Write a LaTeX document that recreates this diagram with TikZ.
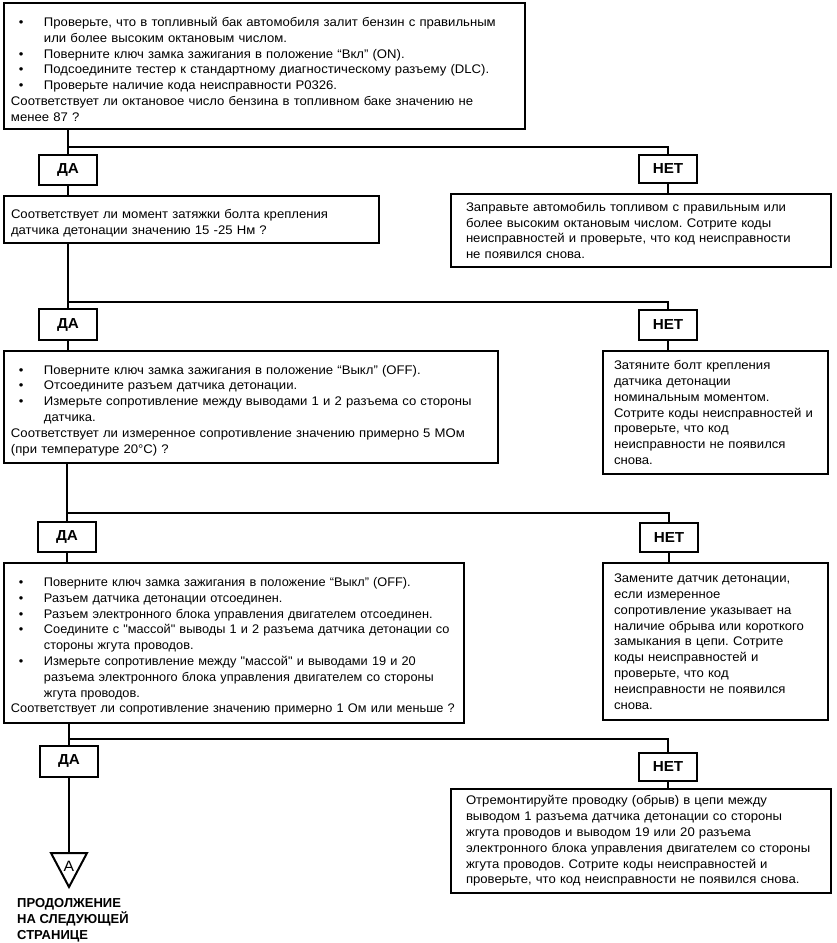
\documentclass[tikz,border=0pt]{standalone}
\usepackage{fontspec}
\setmainfont{Liberation Sans}[FakeStretch=1.05]
\newfontfamily\plainsans{Liberation Sans}
\newfontfamily\narrowsans{Liberation Sans}[FakeStretch=1.02]
% bullet first line, continuation line, plain first line
\newcommand\bl[1]{\par\noindent\makebox[33pt][l]{\hspace{8pt}\textbullet}\mbox{#1}}
\newcommand\cl[1]{\par\noindent\hspace*{33pt}\mbox{#1}}
\newcommand\pl[1]{\par\noindent\mbox{#1}}
\begin{document}
\begin{tikzpicture}[x=1pt,y=-1pt,
  qbox/.style={draw, line width=2pt, anchor=north west, align=left, inner xsep=0pt, inner ysep=2pt,
    font=\frenchspacing\fontsize{12.5}{15.8}\selectfont,
    execute at begin node={\setlength{\leftskip}{7pt}}},
  nbox/.style={draw, line width=2pt, anchor=north west, align=left, inner xsep=0pt, inner ysep=2pt,
    font=\frenchspacing\fontsize{12.5}{15.8}\selectfont},
  in15/.style={execute at begin node={\setlength{\leftskip}{15pt}}},
  in11/.style={execute at begin node={\setlength{\leftskip}{11pt}}},
  yn/.style={draw, line width=2pt, inner sep=0pt, minimum width=58pt, minimum height=30pt,
    font=\bfseries\fontsize{14.5}{16}\selectfont},
  ln/.style={line width=2pt}]
\useasboundingbox (0,0) rectangle (836,943);

% question boxes
\node[qbox, text width=521pt, minimum height=126pt] (q0) at (3,2) {%
\bl{Проверьте, что в топливный бак автомобиля залит бензин с правильным}%
\cl{или более высоким октановым числом.}%
\bl{Поверните ключ замка зажигания в положение “Вкл” (ON).}%
\bl{Подсоедините тестер к стандартному диагностическому разъему (DLC).}%
\bl{Проверьте наличие кода неисправности P0326.}%
\pl{Соответствует ли октановое число бензина в топливном баке значению не}%
\pl{менее 87 ?}};

\node[qbox, text width=375pt, minimum height=47pt] (q1) at (3,195) {%
\pl{Соответствует ли момент затяжки болта крепления}%
\pl{датчика детонации значению 15 -25 Нм ?}};

\node[qbox, text width=494pt, minimum height=112pt] (q2) at (3,350) {%
\bl{Поверните ключ замка зажигания в положение “Выкл” (OFF).}%
\bl{Отсоедините разъем датчика детонации.}%
\bl{Измерьте сопротивление между выводами 1 и 2 разъема со стороны}%
\cl{датчика.}%
\pl{Соответствует ли измеренное сопротивление значению примерно 5 МОм}%
\pl{(при температуре 20°C) ?}};

\node[qbox, text width=460pt, minimum height=160pt,
  font=\narrowsans\frenchspacing\fontsize{12.5}{15.8}\selectfont] (q3) at (3,562) {%
\bl{Поверните ключ замка зажигания в положение “Выкл” (OFF).}%
\bl{Разъем датчика детонации отсоединен.}%
\bl{Разъем электронного блока управления двигателем отсоединен.}%
\bl{Соедините с "массой" выводы 1 и 2 разъема датчика детонации со}%
\cl{стороны жгута проводов.}%
\bl{Измерьте сопротивление между "массой" и выводами 19 и 20}%
\cl{разъема электронного блока управления двигателем со стороны}%
\cl{жгута проводов.}%
\pl{Соответствует ли сопротивление значению примерно 1 Ом или меньше ?}};

% negative answer boxes
\node[nbox, in15, text width=380pt, minimum height=73pt] (n1) at (450,193) {%
Заправьте автомобиль топливом с правильным или\\более высоким октановым числом. Сотрите коды\\неисправностей и проверьте, что код неисправности\\не появился снова.};

\node[nbox, in11, text width=225pt, minimum height=123pt] (n2) at (602,350) {%
Затяните болт крепления\\датчика детонации\\номинальным моментом.\\Сотрите коды неисправностей и\\проверьте, что код\\неисправности не появился\\снова.};

\node[nbox, in11, text width=225pt, minimum height=157pt] (n3) at (602,562) {%
Замените датчик детонации,\\если измеренное\\сопротивление указывает на\\наличие обрыва или короткого\\замыкания в цепи. Сотрите\\коды неисправностей и\\проверьте, что код\\неисправности не появился\\снова.};

\node[nbox, in15, text width=380pt, minimum height=104pt] (n4) at (450,788) {%
Отремонтируйте проводку (обрыв) в цепи между\\выводом 1 разъема датчика детонации со стороны\\жгута проводов и выводом 19 или 20 разъема\\электронного блока управления двигателем со стороны\\жгута проводов. Сотрите коды неисправностей и\\проверьте, что код неисправности не появился снова.};

% yes / no labels
\node[yn] (y1) at (68,170) {ДА};
\node[yn, minimum height=31pt] (y2) at (68,324.5) {ДА};
\node[yn] (y3) at (67,537) {ДА};
\node[yn, minimum height=31pt] (y4) at (69,761) {ДА};
\node[yn, minimum height=28pt] (m1) at (668,169) {НЕТ};
\node[yn, minimum height=30pt] (m2) at (668,324.5) {НЕТ};
\node[yn, minimum height=29pt] (m3) at (669,537.5) {НЕТ};
\node[yn, minimum height=28pt] (m4) at (668,766.5) {НЕТ};

% junctions
\coordinate (j1) at (68,147);
\coordinate (j2) at (68,302);
\coordinate (j3) at (67,513);
\coordinate (j4) at (69,739);

% connectors
\draw[ln] (q0.south -| y1.north) -- (y1.north);
\draw[ln] (j1) -| (m1.north);
\draw[ln] (y1.south) -- (y1.south |- q1.north);
\draw[ln] (m1.south) -- (m1.south |- n1.north);

\draw[ln] (q1.south -| y2.north) -- (y2.north);
\draw[ln] (j2) -| (m2.north);
\draw[ln] (y2.south) -- (y2.south |- q2.north);
\draw[ln] (m2.south) -- (m2.south |- n2.north);

\draw[ln] (q2.south -| y3.north) -- (y3.north);
\draw[ln] (j3) -| (m3.north);
\draw[ln] (y3.south) -- (y3.south |- q3.north);
\draw[ln] (m3.south) -- (m3.south |- n3.north);

\draw[ln] (q3.south -| y4.north) -- (y4.north);
\draw[ln] (j4) -| (m4.north);
\draw[ln] (m4.south) -- (m4.south |- n4.north);

% continuation triangle
\coordinate (tri) at (69,853);
\draw[ln] (y4.south) -- (tri);
\draw[ln, line join=miter] (51,853) -- (87,853) -- (69,887) -- cycle;
\node[font=\fontsize{15}{16}\selectfont, inner sep=0pt] (alab) at (69,866) {A};
\node[anchor=north west, align=left, inner sep=0pt,
  font=\plainsans\bfseries\fontsize{13}{16}\selectfont] (cont) at (17,898)
  {ПРОДОЛЖЕНИЕ\\НА СЛЕДУЮЩЕЙ\\СТРАНИЦЕ};
\end{tikzpicture}
\end{document}
